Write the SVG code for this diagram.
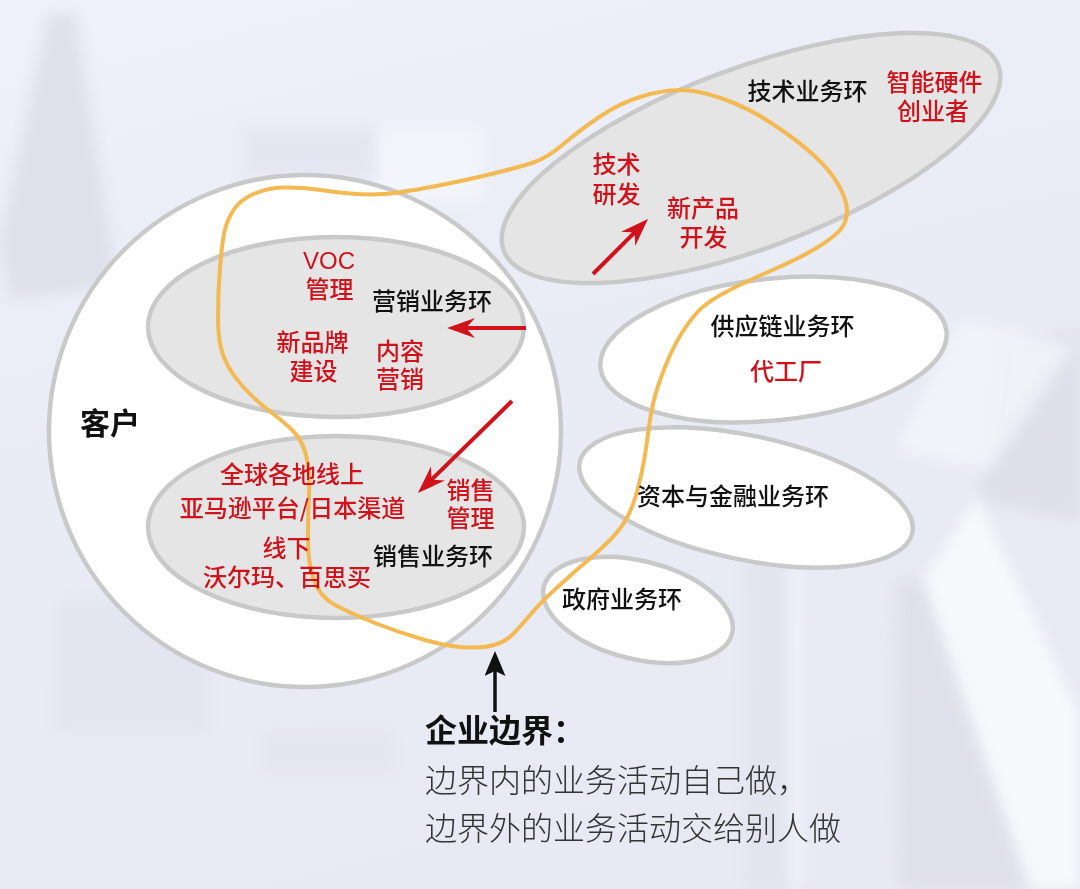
<svg xmlns="http://www.w3.org/2000/svg" width="1080" height="889" viewBox="0 0 1080 889">
<defs>
<linearGradient id="bg" x1="0" y1="0" x2="0.3" y2="1">
<stop offset="0" stop-color="#eef1f9"/>
<stop offset="0.5" stop-color="#e9ecf5"/>
<stop offset="1" stop-color="#e7e9f3"/>
</linearGradient>
<filter id="blur" x="-20%" y="-20%" width="140%" height="140%"><feGaussianBlur stdDeviation="7"/></filter>
<marker id="redHead" viewBox="0 0 28 20" refX="18" refY="10" markerWidth="28" markerHeight="20" markerUnits="userSpaceOnUse" orient="auto">
<path d="M0,0 L28,10 L0,20 L9,10 Z" fill="#d0121b"/>
</marker>
<marker id="blackHead" viewBox="0 0 25 21" refX="15" refY="10.5" markerWidth="25" markerHeight="21" markerUnits="userSpaceOnUse" orient="auto">
<path d="M0,0 L25,10.5 L0,21 L5,10.5 Z" fill="#111"/>
</marker>
</defs>
<style>
.ring{stroke:#c9c9c9;stroke-width:4.5}
.white{fill:#ffffff}
.grey{fill:#e5e5e5}
.lbl{font-family:"Noto Sans CJK SC","Liberation Sans",sans-serif;font-size:24px;font-weight:500;text-anchor:middle}
.blk{fill:#111111}
.red{fill:#d0121b}
.voc{font-family:"Liberation Sans","Noto Sans CJK SC",sans-serif;font-size:24px;text-anchor:middle;fill:#d0121b}
.arrow{stroke:#d0121b;stroke-width:4;fill:none}
.barrow{stroke:#111;stroke-width:3.5;fill:none}
.note{font-family:"Noto Sans CJK SC","Liberation Sans",sans-serif;font-size:32px}
</style>

<g id="background">
<rect x="0" y="0" width="1080" height="889" fill="url(#bg)"/>
<g filter="url(#blur)">
<polygon points="48,15 75,12 118,285 10,300 0,240" fill="#d6d7e4" opacity="0.6"/>
<rect x="243" y="127" width="134" height="50" fill="#dfe1ec" opacity="0.6"/>
<rect x="377" y="127" width="106" height="75" fill="#f4f6fb" opacity="0.8"/>
<polygon points="1000,340 1080,330 1080,520 980,500" fill="#d8dae6" opacity="0.7"/>
<polygon points="960,320 1075,345 990,470 895,450" fill="#f6f7fb" opacity="0.7"/>
<polygon points="923,580 977,497 1080,713 1080,889 1030,889" fill="#f8f9fc" opacity="0.9"/>
<polygon points="897,580 923,580 1030,889 900,889" fill="#dcdde9" opacity="0.8"/>
<rect x="747" y="527" width="43" height="362" fill="#e0e2ed" opacity="0.7"/>
<rect x="790" y="527" width="12" height="362" fill="#f6f7fb" opacity="0.7"/>
<rect x="57" y="600" width="150" height="130" fill="#e0e2ed" opacity="0.6"/>
<rect x="263" y="733" width="130" height="37" fill="#e0e2ed" opacity="0.5"/>
</g>
</g>

<g id="customer">
<circle class="ring white" cx="305" cy="431" r="256"/>
<text class="lbl blk" x="110" y="434" style="font-size:30px;font-weight:700">客户</text>
</g>

<g id="marketing">
<ellipse class="ring grey" cx="336" cy="327" rx="188" ry="90"/>
</g>

<g id="sales">
<ellipse class="ring grey" cx="336" cy="527" rx="188" ry="91"/>
</g>

<g id="tech">
<ellipse class="ring grey" cx="751" cy="158" rx="264" ry="90" transform="rotate(-20.5 751 158)"/>
</g>

<g id="supply">
<ellipse class="ring white" cx="773.5" cy="349.5" rx="174" ry="71" transform="rotate(-6 773.5 349.5)"/>
</g>

<g id="capital">
<ellipse class="ring white" cx="746" cy="497.5" rx="170" ry="62" transform="rotate(12 746 497.5)"/>
</g>

<g id="government">
<ellipse class="ring white" cx="638" cy="610" rx="97" ry="49" transform="rotate(14 638 610)"/>
</g>

<g id="boundary">
<path d="M224.5,231.5 Q227,220 233.5,210 Q240,200 253.5,194 Q267,188 283.5,187.5 Q300,187 316.5,189.5 Q333,192 350,193.5 Q367,195 383.5,194 Q400,193 433.5,186.5 Q467,180 493.5,173.5 Q520,167 533.5,162.5 Q547,158 563.5,144 Q580,130 600,116.5 Q620,103 641.5,96.5 Q663,90 680,90 Q697,90 722,98.5 Q747,107 772,123.5 Q797,140 813.5,155 Q830,170 838.5,185 Q847,200 847,211 Q847,222 840,230 Q833,238 816.5,248 Q800,258 772.5,270 Q745,282 726,292 Q707,302 698.5,311 Q690,320 681.5,333.5 Q673,347 665,367 Q657,387 653.5,402 Q650,417 648.5,430 Q647,443 644.5,458 Q642,473 637.5,490 Q633,507 626.5,518.5 Q620,530 610,540 Q600,550 586.5,561.5 Q573,573 556.5,588 Q540,603 530,615 Q520,627 512.5,634.5 Q505,642 494,645 Q483,648 466.5,647.5 Q450,647 425,640 Q400,633 375,623 Q350,613 335,605 Q320,597 314,580 Q308,563 308,541.5 Q308,520 309,495 Q310,470 306,455 Q302,440 293,431 Q284,422 269.5,411 Q255,400 242.5,386 Q230,372 224,357.5 Q218,343 218,318 Q218,293 220,268 Q222,243 224.5,231.5 Z" fill="none" stroke="#f3b953" stroke-width="4"/>
</g>

<g id="connectors">
<line class="arrow" x1="526" y1="328" x2="457" y2="328" marker-end="url(#redHead)"/>
<line class="arrow" x1="512" y1="401" x2="425.1" y2="486" marker-end="url(#redHead)"/>
<line class="arrow" x1="593" y1="274" x2="640.9" y2="226.1" marker-end="url(#redHead)"/>
<line class="barrow" x1="495" y1="712" x2="495" y2="661" marker-end="url(#blackHead)"/>
</g>

<g id="marketing-labels">
<text class="voc" x="329" y="269">VOC</text>
<text class="lbl red" x="329.5" y="298">管理</text>
<text class="lbl blk" x="432" y="310">营销业务环</text>
<text class="lbl red" x="312.5" y="351">新品牌</text>
<text class="lbl red" x="313.5" y="380">建设</text>
<text class="lbl red" x="400" y="360">内容</text>
<text class="lbl red" x="400" y="388">营销</text>
</g>

<g id="sales-labels">
<text class="lbl red" x="292" y="483">全球各地线上</text>
<text class="lbl red" x="292.5" y="517">亚马逊平台/日本渠道</text>
<text class="lbl red" x="470.5" y="499">销售</text>
<text class="lbl red" x="470.5" y="527">管理</text>
<text class="lbl red" x="286.5" y="557">线下</text>
<text class="lbl red" x="287" y="586">沃尔玛、百思买</text>
<text class="lbl blk" x="433" y="565">销售业务环</text>
</g>

<g id="tech-labels">
<text class="lbl blk" x="807.5" y="100">技术业务环</text>
<text class="lbl red" x="934.5" y="91">智能硬件</text>
<text class="lbl red" x="933" y="120">创业者</text>
<text class="lbl red" x="616.5" y="173">技术</text>
<text class="lbl red" x="616.5" y="203">研发</text>
<text class="lbl red" x="703" y="217">新产品</text>
<text class="lbl red" x="703.5" y="246">开发</text>
</g>

<g id="other-labels">
<text class="lbl blk" x="782.5" y="335">供应链业务环</text>
<text class="lbl red" x="786" y="380">代工厂</text>
<text class="lbl blk" x="733" y="505">资本与金融业务环</text>
<text class="lbl blk" x="622" y="608">政府业务环</text>
</g>

<g id="note">
<text class="note" x="425" y="742" fill="#111" font-weight="700">企业边界：</text>
<text class="note" x="425" y="792" fill="#333" font-weight="300">边界内的业务活动自己做，</text>
<text class="note" x="425" y="840" fill="#333" font-weight="300">边界外的业务活动交给别人做</text>
</g>
</svg>
